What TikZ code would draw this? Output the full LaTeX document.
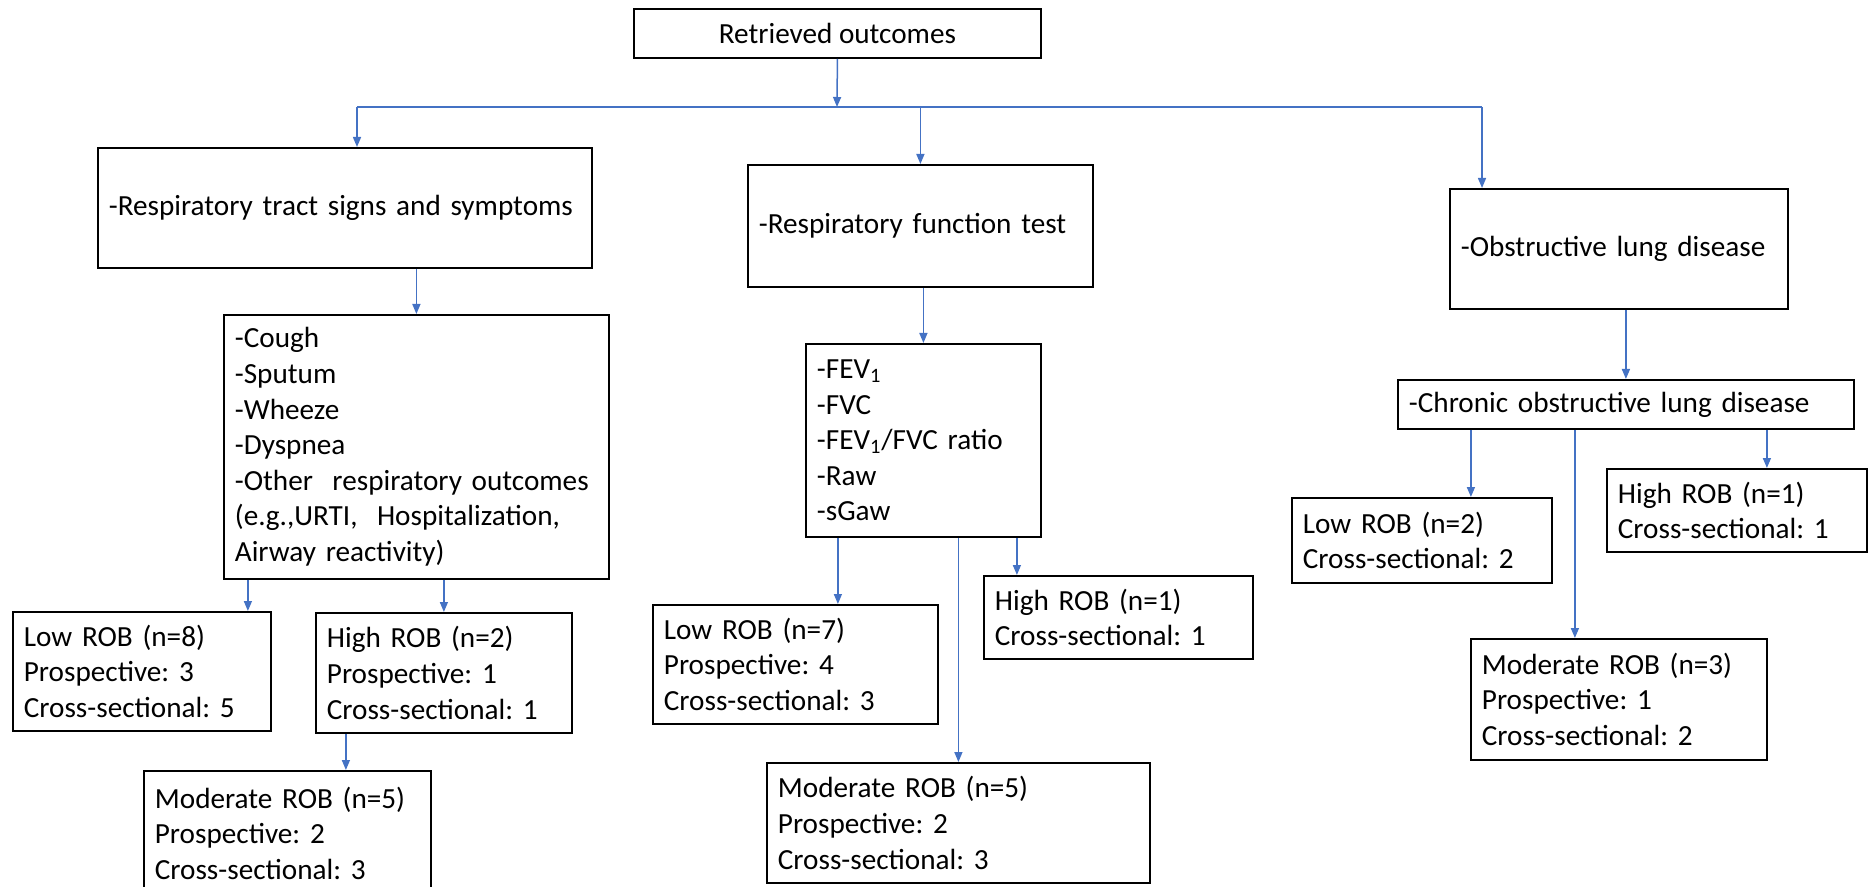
\documentclass[tikz,border=0pt]{standalone}
\usepackage{fontspec}
\setmainfont{Carlito}
\usetikzlibrary{arrows.meta}
\definecolor{arrowblue}{HTML}{4472C4}

\begin{document}
\frenchspacing
\begin{tikzpicture}[x = 0.5pt, y = -0.5pt,
	box/.style = {draw, line width = 0.9pt, anchor = north west, align = left, inner xsep = 5.5pt, inner ysep = 3pt, font = \fontsize{14.6}{17.8}\selectfont},
	link/.style = {draw = arrowblue, line width = 0.75pt, -{Triangle[length = 5pt, width = 4pt]}}]
	\path[use as bounding box] (0, 0) rectangle (1872, 887);

	\node[box, align = center, minimum width = 203.5pt, minimum height = 24.5pt](top) at (633, 8) {Retrieved outcomes};

	\node[box, text width = 236pt, minimum height = 60pt](sym) at (97, 147) {-Respiratory tract signs and symptoms};
	\node[box, text width = 161.5pt, minimum height = 61pt](rft) at (747, 164) {-Respiratory function test};
	\node[box, text width = 158pt, minimum height = 60pt](old) at (1449, 188) {-Obstructive lung disease};

	\node[box, text width = 181.5pt, minimum height = 132pt](symlist) at (223, 314) {-Cough\\-Sputum\\-Wheeze\\-Dyspnea\\-Other\ \ respiratory outcomes\\(e.g.,URTI,\ \ Hospitalization,\\Airway reactivity)};
	\node[box, text width = 106.5pt, minimum height = 96.5pt](fevlist) at (805, 343) {-FEV\textsubscript{1}\\-FVC\\-FEV\textsubscript{1}/FVC ratio\\-Raw\\-sGaw};
	\node[box, text width = 217pt, minimum height = 24.5pt](cold) at (1397, 379) {-Chronic obstructive lung disease};

	\node[box, text width = 118pt, minimum height = 59.5pt](low8) at (12, 611) {Low ROB (n=8)\\Prospective: 3\\Cross-sectional: 5};
	\node[box, text width = 117pt, minimum height = 60pt](high2) at (315, 612) {High ROB (n=2)\\Prospective: 1\\Cross-sectional: 1};
	\node[box, text width = 132.5pt, minimum height = 62.5pt](mod5a) at (143, 770) {Moderate ROB (n=5)\\Prospective: 2\\Cross-sectional: 3};

	\node[box, text width = 131.5pt, minimum height = 59.5pt](low7) at (652, 604) {Low ROB (n=7)\\Prospective: 4\\Cross-sectional: 3};
	\node[box, text width = 123.5pt, minimum height = 41.5pt](high1b) at (983, 575) {High ROB (n=1)\\Cross-sectional: 1};
	\node[box, text width = 180.5pt, minimum height = 60pt](mod5b) at (766, 762) {Moderate ROB (n=5)\\Prospective: 2\\Cross-sectional: 3};

	\node[box, text width = 119pt, minimum height = 42.5pt](low2) at (1291, 497) {Low ROB (n=2)\\Cross-sectional: 2};
	\node[box, text width = 119pt, minimum height = 41.5pt](high1c) at (1606, 468) {High ROB (n=1)\\Cross-sectional: 1};
	\node[box, text width = 137pt, minimum height = 60.5pt](mod3) at (1470, 638) {Moderate ROB (n=3)\\Prospective: 1\\Cross-sectional: 2};

	\coordinate[](split) at (837, 107);
	\coordinate[](hl) at (357, 107);
	\coordinate[](hr) at (1482, 107);
	\draw[link] (top.south) -- (split);
	\draw[draw = arrowblue, line width = 0.75pt] (hl) -- (hr);
	\draw[link] (hl) -- (hl |- sym.north);
	\draw[link] (rft.north |- hl) -- (rft.north);
	\draw[link] (hr) -- (hr |- old.north);

	\draw[link] (symlist.north |- sym.south) -- (symlist.north);
	\draw[link] (fevlist.north |- rft.south) -- (fevlist.north);
	\draw[link] (cold.north |- old.south) -- (cold.north);

	\path (symlist.south) ++(-168.5, 0) coordinate (s1);
	\draw[link] (s1) -- (s1 |- low8.north);
	\draw[link] (high2.north |- symlist.south) -- (high2.north);
	\path (high2.south) ++(-98, 0) coordinate (s2);
	\draw[link] (s2) -- (s2 |- mod5a.north);

	\path (fevlist.south) ++(-85.5, 0) coordinate (f1);
	\path (fevlist.south) ++(93.5, 0) coordinate (f2);
	\draw[link] (f1) -- (f1 |- low7.north);
	\draw[link] (mod5b.north |- fevlist.south) -- (mod5b.north);
	\draw[link] (f2) -- (f2 |- high1b.north);

	\path (cold.south) ++(-155, 0) coordinate (c1);
	\path (cold.south) ++(-51, 0) coordinate (c2);
	\path (cold.south) ++(141, 0) coordinate (c3);
	\draw[link] (c1) -- (c1 |- low2.north);
	\draw[link] (c2) -- (c2 |- mod3.north);
	\draw[link] (c3) -- (c3 |- high1c.north);
\end{tikzpicture}
\end{document}
